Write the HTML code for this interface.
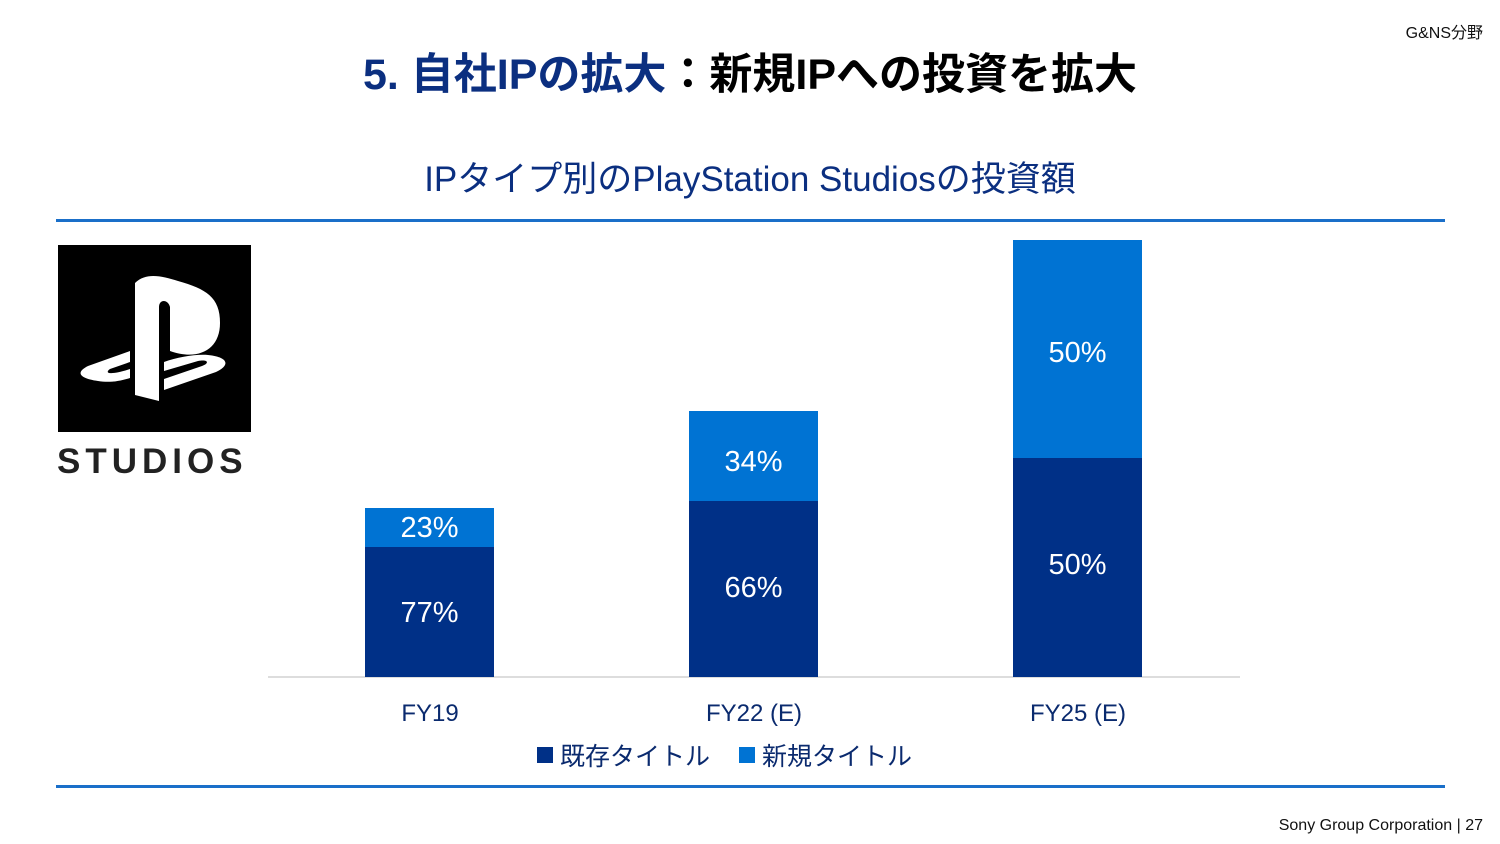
<!DOCTYPE html>
<html><head><meta charset="utf-8"><style>
*{margin:0;padding:0;box-sizing:border-box}
body{width:1500px;height:844px;background:#fff;position:relative;overflow:hidden;font-family:"Liberation Sans","Noto Sans CJK JP",sans-serif}
.a{position:absolute;white-space:nowrap}
.bar{position:absolute;width:129px}
.d{background:#003087}.l{background:#0073d3}
.v{position:absolute;width:129px;text-align:center;color:#fff;font-size:29px}
.x{position:absolute;width:200px;text-align:center;color:#0a2a6e;font-size:24px}
</style></head><body>
<div class="a" style="right:17px;top:19px;font-size:16px;color:#111">G&amp;NS分野</div>
<div class="a" style="left:0;width:1500px;text-align:center;top:40px;font-size:43px;font-weight:bold;color:#0b2f80">5. 自社IPの拡大<span style="color:#000">：新規IPへの投資を拡大</span></div>
<div class="a" style="left:0;width:1500px;text-align:center;top:151px;font-size:35px;color:#0b2f80">IPタイプ別のPlayStation Studiosの投資額</div>
<div class="a" style="left:56px;top:219px;width:1389px;height:3px;background:#1a6fc9"></div>
<div class="a" style="left:56px;top:785px;width:1389px;height:3px;background:#1a6fc9"></div>
<div class="a" style="left:58px;top:245px;width:193px;height:187px;background:#000">
<svg width="193" height="187" viewBox="0 0 193 187">
<path fill="#fff" d="M77 38 L77 150 L101 156 L101 62 C101 54 110 54 112 62 L112 106 C140 116 162 105 162 78 C162 52 148 44 120 36 C104 31 88 27 77 38 Z"/>
<path fill="#fff" d="M72 106 L30 121 C18 127 20 133 40 136 C52 138 62 136 72 133 L72 124 C55 130 45 129 52 124 L72 117 Z"/>
<path fill="#fff" d="M106 134 L106 145 L158 127 C173 120 170 112 150 110 C138 109 120 112 106 117 L106 126 L140 116 C150 114 152 118 144 121 Z"/>
</svg></div>
<div class="a" style="left:57px;top:442px;font-size:35px;font-weight:bold;letter-spacing:5px;color:#222">STUDIOS</div>
<div class="a" style="left:268px;top:676px;width:972px;height:2px;background:#ddd"></div>
<div class="bar l" style="left:365px;top:508px;height:40px"></div>
<div class="bar d" style="left:365px;top:547px;height:130px"></div>
<div class="bar l" style="left:689px;top:411px;height:91px"></div>
<div class="bar d" style="left:689px;top:501px;height:176px"></div>
<div class="bar l" style="left:1013px;top:240px;height:219px"></div>
<div class="bar d" style="left:1013px;top:458px;height:219px"></div>
<div class="v" style="left:365px;top:512px">23%</div>
<div class="v" style="left:365px;top:597px">77%</div>
<div class="v" style="left:689px;top:446px">34%</div>
<div class="v" style="left:689px;top:572px">66%</div>
<div class="v" style="left:1013px;top:337px">50%</div>
<div class="v" style="left:1013px;top:549px">50%</div>
<div class="x" style="left:330px;top:700px">FY19</div>
<div class="x" style="left:654px;top:700px">FY22 (E)</div>
<div class="x" style="left:978px;top:700px">FY25 (E)</div>
<div class="a" style="left:537px;top:747px;width:16px;height:16px;background:#003087"></div>
<div class="a" style="left:560px;top:737px;font-size:25px;color:#0a2a6e">既存タイトル</div>
<div class="a" style="left:739px;top:747px;width:16px;height:16px;background:#0073d3"></div>
<div class="a" style="left:762px;top:737px;font-size:25px;color:#0a2a6e">新規タイトル</div>
<div class="a" style="right:17px;top:817px;font-size:16px;color:#111">Sony Group Corporation | 27</div>
</body></html>
